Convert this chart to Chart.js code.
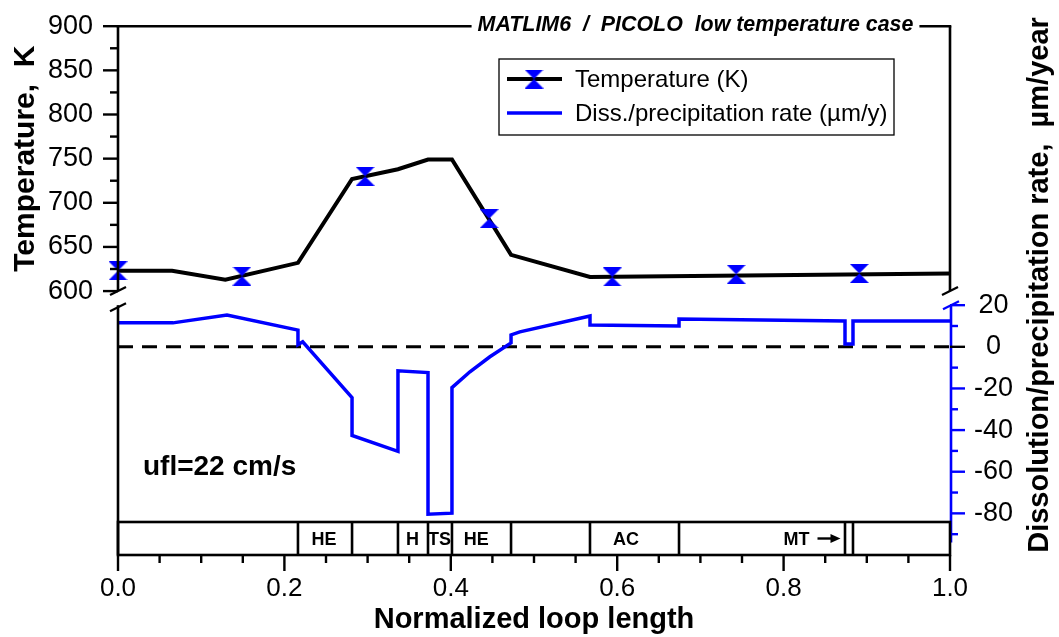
<!DOCTYPE html>
<html><head><meta charset="utf-8">
<script src="https://cdn.jsdelivr.net/npm/chart.js@4.4.1/dist/chart.umd.min.js"></script>
<style>html,body{margin:0;padding:0;background:#fff;}canvas{display:block;}</style>
</head><body>
<canvas id="c" width="1059" height="637"></canvas>
<script>
// ---- data ----
const tempX = [0, 0.065, 0.129, 0.2163, 0.2813, 0.3365, 0.3726, 0.4014, 0.4724, 0.5673, 1.0];
const tempK = [623, 623, 613, 632, 727, 738, 749, 749, 641, 616, 620];
const markerX = [0, 0.149, 0.297, 0.446, 0.594, 0.743, 0.891];
const markerK = [623, 617, 730, 682, 616, 619, 620];
const rateX = [0, 0.066, 0.131, 0.2163, 0.2163, 0.222, 0.2813, 0.2813, 0.3365, 0.3365, 0.3726, 0.3726, 0.4014, 0.4014, 0.423, 0.447, 0.4724, 0.4724, 0.483, 0.5673, 0.5673, 0.6743, 0.6743, 0.8738, 0.8738, 0.8834, 0.8834, 1.0];
const rateV = [11.5, 11.5, 15.3, 8.0, 1.0, 2.4, -24.4, -42.6, -50.2, -11.5, -12.4, -80.4, -79.9, -19.6, -12.0, -4.8, 1.9, 5.7, 7.2, 14.8, 10.5, 10.0, 13.4, 12.4, 1.4, 1.4, 12.4, 12.4];
const sectionBounds = [0, 0.2163, 0.2813, 0.3365, 0.3726, 0.4014, 0.4724, 0.5673, 0.6743, 0.8738, 0.8834, 1.0];
const sectionNames = ['HE', 'H', 'TS', 'HE', 'AC', 'MT'];
const sectionNameAt = [0.2475, 0.354, 0.3865, 0.4305, 0.6105, 0.8155];
const flowArrowIndex = 5; // section label followed by the flow arrow
const xMajor = [0, 0.2, 0.4, 0.6, 0.8, 1.0];
const tempMajor = [600, 650, 700, 750, 800, 850, 900];
const rateMajor = [-80, -60, -40, -20, 0, 20];
const chartTitle = 'MATLIM6  /  PICOLO  low temperature case';
const noteText = 'ufl=22 cm/s';
const noteAt = [0.03, -58];

const FONT = "'Liberation Sans', Arial, Helvetica, sans-serif";
const BLUE = '#0000ff';
Chart.defaults.font.family = FONT;
Chart.defaults.color = '#000';

const hourglass = (() => {
  const c = document.createElement('canvas'); c.width = 19; c.height = 19;
  const g = c.getContext('2d'); g.fillStyle = BLUE;
  g.beginPath(); g.moveTo(0, 0); g.lineTo(19, 0); g.lineTo(9.5, 9.5); g.closePath(); g.fill();
  g.beginPath(); g.moveTo(0, 19); g.lineTo(19, 19); g.lineTo(9.5, 9.5); g.closePath(); g.fill();
  return c;
})();

function withMinors(majors, parts, extraBelow) {
  const out = [];
  const step = (majors[1] - majors[0]) / parts;
  for (let k = 1; k <= extraBelow; k++) out.push({ value: majors[0] - k * step, major: false });
  majors.forEach((m, i) => {
    out.push({ value: m, major: true });
    if (i < majors.length - 1) for (let k = 1; k < parts; k++) out.push({ value: m + k * step, major: false });
  });
  return out.sort((a, b) => a.value - b.value);
}
const isMajor = (v, majors) => majors.some(m => Math.abs(m - v) < 1e-6);

const decor = {
  id: 'decor',
  afterDatasetsDraw(chart) {
    const { ctx, chartArea: ca, scales: { x, yT, yR } } = chart;
    const L = ca.left, R = ca.right, T = ca.top, B = ca.bottom;
    const line = (x1, y1, x2, y2, color, w) => { ctx.strokeStyle = color; ctx.lineWidth = w; ctx.beginPath(); ctx.moveTo(x1, y1); ctx.lineTo(x2, y2); ctx.stroke(); };
    ctx.save();
    ctx.lineCap = 'butt';
    const yTopEnd = yT.getPixelForValue(600);
    const yBotStart = yR.getPixelForValue(20);
    const AW = 2.6;
    // title on top border
    ctx.font = `italic bold 21.4px ${FONT}`;
    ctx.textAlign = 'center'; ctx.textBaseline = 'middle'; ctx.fillStyle = '#000';
    const tcx = 695.5, tw = ctx.measureText(chartTitle).width;
    ctx.fillText(chartTitle, tcx, T - 1);
    line(L - 1.3, T, tcx - tw / 2 - 6, T, '#000', AW);
    line(tcx + tw / 2 + 6, T, R + 1.3, T, '#000', AW);
    // upper panel sides
    line(L, T, L, yTopEnd, '#000', AW);
    line(R, T, R, yTopEnd, '#000', AW);
    // lower panel sides
    line(L, yBotStart, L, B, '#000', AW);
    line(R + 1, yBotStart, R + 1, yR.getPixelForValue(-94), BLUE, AW);
    // break marks
    const brk = (xx, yy, c) => line(xx - 8, yy + 4, xx + 8, yy - 4, c, 2.2);
    brk(L, yTopEnd, '#000'); brk(L, yBotStart + 2, '#000');
    brk(R, yTopEnd, '#000'); brk(R + 1, yBotStart, BLUE);
    // left ticks
    yT.ticks.forEach(t => {
      const p = yT.getPixelForValue(t.value);
      const len = isMajor(t.value, tempMajor) ? 15 : 8;
      line(L - len, p, L, p, '#000', 2.4);
    });
    // right ticks
    yR.ticks.forEach(t => {
      const p = yR.getPixelForValue(t.value);
      const len = isMajor(t.value, rateMajor) ? 15 : 8;
      line(R, p, R + len, p, t.value === 0 ? '#000' : BLUE, 2.4);
    });
    // x ticks
    x.ticks.forEach(t => {
      const p = x.getPixelForValue(t.value);
      const len = isMajor(t.value, xMajor) ? 16 : 8;
      line(p, B, p, B + len, '#000', 2.4);
    });
    // section band
    const bandTop = B - 33;
    ctx.strokeStyle = '#000'; ctx.lineWidth = AW;
    ctx.strokeRect(L, bandTop, R - L, B - bandTop);
    sectionBounds.slice(1, -1).forEach(s => {
      const p = x.getPixelForValue(s);
      line(p, bandTop, p, B, '#000', AW);
    });
    ctx.font = `bold 18px ${FONT}`; ctx.fillStyle = '#000';
    ctx.textAlign = 'center'; ctx.textBaseline = 'middle';
    const labY = (bandTop + B) / 2 + 2;
    sectionNames.forEach((n, i) => {
      const px = x.getPixelForValue(sectionNameAt[i]);
      ctx.fillText(n, px, labY);
      if (i === flowArrowIndex) {
        const ax0 = px + ctx.measureText(n).width / 2 + 8, ax1 = ax0 + 23, ay = labY - 2;
        line(ax0, ay, ax1 - 7, ay, '#000', 2.4);
        ctx.beginPath(); ctx.moveTo(ax1, ay); ctx.lineTo(ax1 - 10, ay - 4.5); ctx.lineTo(ax1 - 10, ay + 4.5); ctx.closePath(); ctx.fill();
      }
    });
    // note
    ctx.font = `bold 28px ${FONT}`; ctx.textAlign = 'left';
    ctx.fillText(noteText, x.getPixelForValue(noteAt[0]), yR.getPixelForValue(noteAt[1]));
    // legend
    const lx = 499, ly = 59, lw = 395, lh = 76;
    ctx.fillStyle = '#fff'; ctx.fillRect(lx, ly, lw, lh);
    ctx.strokeStyle = '#000'; ctx.lineWidth = 1.3; ctx.strokeRect(lx, ly, lw, lh);
    const r1 = ly + 20, r2 = ly + 54;
    line(lx + 8, r1, lx + 63, r1, '#000', 4);
    ctx.drawImage(hourglass, lx + 35 - 9.5, r1 - 9.5);
    line(lx + 8, r2, lx + 63, r2, BLUE, 3.5);
    ctx.fillStyle = '#000'; ctx.font = `24px ${FONT}`; ctx.textAlign = 'left'; ctx.textBaseline = 'middle';
    ctx.fillText(chart.data.datasets[0].label, lx + 76, r1 + 1);
    ctx.fillText(chart.data.datasets[2].label, lx + 76, r2 + 1);
    // axis titles
    ctx.font = `bold 30px ${FONT}`; ctx.textAlign = 'center';
    ctx.save(); ctx.translate(26, (T + yTopEnd) / 2); ctx.rotate(-Math.PI / 2);
    ctx.fillText('Temperature,  K', 0, 0); ctx.restore();
    ctx.font = `bold 29px ${FONT}`;
    ctx.save(); ctx.translate(1040, 285); ctx.rotate(-Math.PI / 2);
    ctx.fillText('Dissolution/precipitation rate,  \u00b5m/year', 0, 0); ctx.restore();
    ctx.restore();
  }
};

new Chart(document.getElementById('c'), {
  type: 'line',
  data: {
    datasets: [
      { label: 'Temperature (K)', data: tempX.map((v, i) => ({ x: v, y: tempK[i] })), yAxisID: 'yT',
        borderColor: '#000', borderWidth: 4, pointRadius: 0, tension: 0, order: 2 },
      { label: 'markers', data: markerX.map((v, i) => ({ x: v, y: markerK[i] })), yAxisID: 'yT',
        showLine: false, pointStyle: hourglass, pointRadius: 9.5, clip: false, order: 1 },
      { label: 'Diss./precipitation rate (\u00b5m/y)', data: rateX.map((v, i) => ({ x: v, y: rateV[i] })), yAxisID: 'yR',
        borderColor: BLUE, borderWidth: 3.5, pointRadius: 0, tension: 0, order: 3 },
      { label: 'zero', data: [{ x: 0, y: 0 }, { x: 1, y: 0 }], yAxisID: 'yR',
        borderColor: '#000', borderWidth: 3, borderDash: [15, 9], pointRadius: 0, order: 4 }
    ]
  },
  options: {
    responsive: false, animation: false, devicePixelRatio: 1,
    layout: { padding: { top: 25, left: 0, right: 0, bottom: 0 } },
    plugins: { legend: { display: false }, title: { display: false }, tooltip: { enabled: false } },
    scales: {
      x: {
        type: 'linear', position: 'bottom', min: 0, max: 1,
        afterBuildTicks: s => { s.ticks = withMinors(xMajor, 4, 0); },
        afterFit: s => { s.height = 82; },
        ticks: { autoSkip: false, maxRotation: 0, padding: 2, font: { size: 26 }, color: '#000',
          callback: v => isMajor(v, xMajor) ? v.toFixed(1) : '' },
        grid: { drawOnChartArea: false, drawTicks: true, tickLength: 16, tickColor: 'rgba(0,0,0,0)' },
        border: { display: false },
        title: { display: true, text: 'Normalized loop length', font: { size: 29, weight: 'bold' }, color: '#000', padding: { top: 0, bottom: 0 } }
      },
      yT: {
        type: 'linear', position: 'left', min: 301.1, max: 900,
        afterBuildTicks: s => { s.ticks = withMinors(tempMajor, 2, 0); },
        afterFit: s => { s.width = 118; },
        ticks: { autoSkip: false, padding: 10, font: { size: 27 }, color: '#000',
          callback: v => isMajor(v, tempMajor) ? String(v) : '' },
        grid: { drawOnChartArea: false, drawTicks: true, tickLength: 15, tickColor: 'rgba(0,0,0,0)' },
        border: { display: false }
      },
      yR: {
        type: 'linear', position: 'right', min: -100, max: 154,
        afterBuildTicks: s => { s.ticks = withMinors(rateMajor, 2, 1); },
        afterFit: s => { s.width = 109; },
        ticks: { autoSkip: false, padding: 9, crossAlign: 'center', font: { size: 27 }, color: '#000',
          callback: v => isMajor(v, rateMajor) ? String(v) : '' },
        grid: { drawOnChartArea: false, drawTicks: true, tickLength: 15, tickColor: 'rgba(0,0,0,0)' },
        border: { display: false }
      }
    }
  },
  plugins: [decor]
});
</script>
</body></html>
